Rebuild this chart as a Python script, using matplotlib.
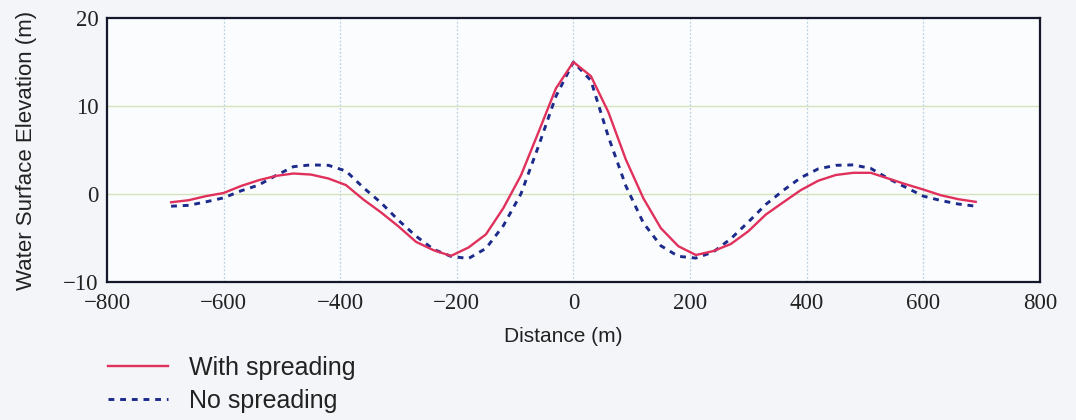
import matplotlib
matplotlib.use('Agg')
import matplotlib.pyplot as plt

# surface profile along the transect, sampled every 30 m
distance = [-690, -660, -630, -600, -570, -540, -510, -480, -450, -420,
            -390, -360, -330, -300, -270, -240, -210, -180, -150, -120,
            -90, -60, -30, 0, 30, 60, 90, 120, 150, 180,
            210, 240, 270, 300, 330, 360, 390, 420, 450, 480,
            510, 540, 570, 600, 630, 660, 690]

with_spreading = [-0.95, -0.72, -0.25, 0.1, 0.9, 1.55, 2.05, 2.32, 2.2, 1.75,
                  1.0, -0.65, -2.1, -3.7, -5.45, -6.4, -7.05, -6.1, -4.6, -1.6,
                  2.1, 7.0, 12.0, 15.0, 13.4, 9.3, 3.9, -0.5, -3.9, -5.95,
                  -6.95, -6.5, -5.7, -4.25, -2.35, -0.95, 0.43, 1.5, 2.15, 2.4,
                  2.4, 1.75, 1.1, 0.5, -0.15, -0.6, -0.9]

no_spreading = [-1.4, -1.3, -0.9, -0.45, 0.35, 1.0, 2.1, 3.1, 3.3, 3.25,
                2.6, 0.7, -1.0, -3.0, -4.8, -6.3, -7.1, -7.35, -6.2, -3.6,
                0.0, 5.4, 11.1, 15.0, 12.9, 6.5, 0.9, -3.3, -5.9, -7.1,
                -7.3, -6.6, -5.1, -3.2, -1.2, 0.4, 1.85, 2.85, 3.25, 3.3,
                2.9, 1.75, 0.75, -0.25, -0.75, -1.15, -1.4]

xticks = [-800, -600, -400, -200, 0, 200, 400, 600, 800]
yticks = [-10, 0, 10, 20]

serif = 'Liberation Serif'
sans = 'Liberation Sans'


def minus(v):
    return '\u2212' + str(-v) if v < 0 else str(v)


fig = plt.figure(figsize=(10.76, 4.2), dpi=100, facecolor='#f3f5f9')
ax = fig.add_axes([0.0994, 0.329, 0.867, 0.628])
ax.set_facecolor('#fbfcfd')

# grid: dotted blue verticals, faint green horizontals
for x in xticks[1:-1]:
    ax.axvline(x, color='#b9d3e3', lw=0.9, ls=(0, (1.5, 1.5)), zorder=1)
for y in yticks[1:-1]:
    ax.axhline(y, color='#d3e4bd', lw=1.0, zorder=1)

l1, = ax.plot(distance, with_spreading, color='#e0305c', lw=1.7, zorder=3,
              label='With spreading')
l2, = ax.plot(distance, no_spreading, color='#1c2a8c', lw=2.1,
              ls=(0, (2.0, 2.0)), zorder=2, label='No spreading')

ax.set_xlim(-800, 800)
ax.set_ylim(-10, 20)
ax.set_xticks(xticks)
ax.set_yticks(yticks)
ax.set_xticklabels([minus(v) for v in xticks],
                   fontfamily=serif, fontsize=16.5, color='#222222')
ax.set_yticklabels([minus(v) for v in yticks],
                   fontfamily=serif, fontsize=16.5, color='#222222')
ax.tick_params(axis='y', length=0, pad=6)
ax.tick_params(axis='x', length=0, pad=8)

for s in ax.spines.values():
    s.set_color('#15172a')
    s.set_linewidth(1.6)

ax.set_xlabel('Distance (m)', fontfamily=sans, fontsize=15, color='#222222')
ax.xaxis.set_label_coords(0.489, -0.17)
ax.set_ylabel('Water Surface Elevation (m)', fontfamily=sans, fontsize=16,
              color='#222222', labelpad=19)

leg = fig.legend(handles=[l1, l2], loc='upper left',
                 bbox_to_anchor=(0.091, 0.177), frameon=False,
                 prop={'family': sans, 'size': 18}, handlelength=2.4,
                 handletextpad=0.85, labelspacing=0.38, borderaxespad=0)
for t in leg.get_texts():
    t.set_color('#222222')

fig.savefig('out.png', dpi=100, facecolor=fig.get_facecolor())
